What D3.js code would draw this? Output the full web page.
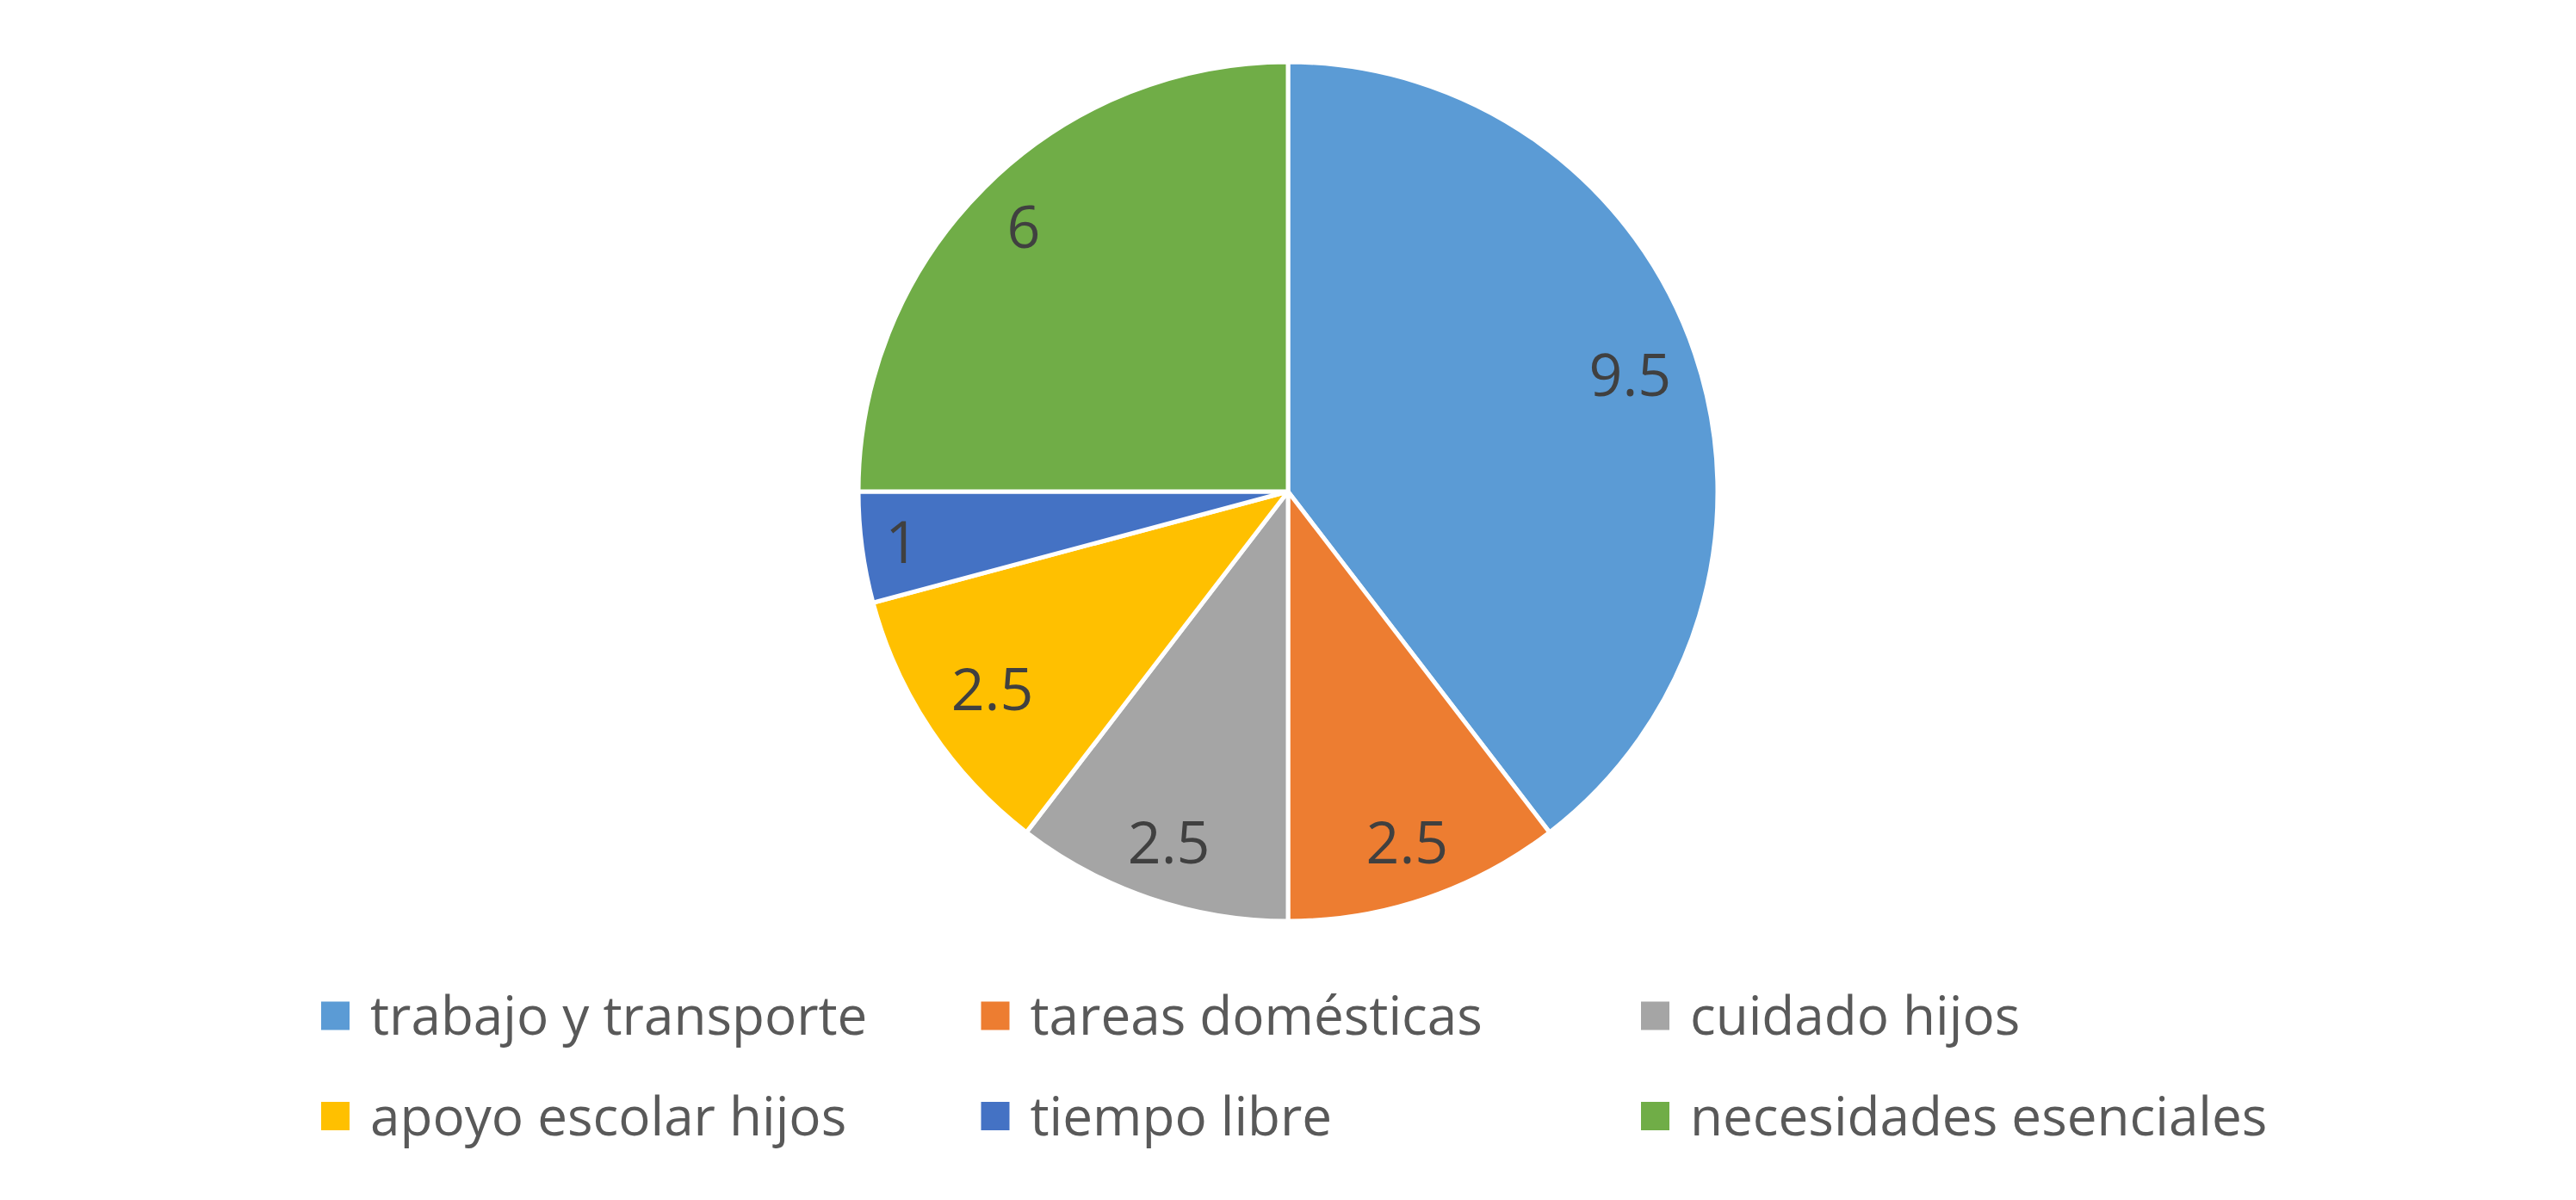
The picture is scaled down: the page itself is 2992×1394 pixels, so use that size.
<!DOCTYPE html>
<html>
<head>
<meta charset="utf-8">
<script src="https://cdn.jsdelivr.net/npm/d3@7"></script>
<style>
  html, body { margin: 0; padding: 0; background: #fff; }
  svg { display: block; font-family: "Open Sans", "Noto Sans", sans-serif; }
</style>
</head>
<body>
<div id="chart"></div>
<script>
// data
const categories = ["trabajo y transporte", "tareas domésticas", "cuidado hijos",
                    "apoyo escolar hijos", "tiempo libre", "necesidades esenciales"];
const hours = [9.5, 2.5, 2.5, 2.5, 1, 6];
const sliceColors = ["#5B9BD5", "#ED7D31", "#A5A5A5", "#FFC000", "#4472C4", "#70AD47"];

// layout
const width = 2992, height = 1394;
const cx = 1496, cy = 571, radius = 499;
// where each data label sits, as a share of the radius (Excel best fit)
const labelPos = [0.841, 0.863, 0.863, 0.828, 0.906, 0.870];

const svg = d3.select("#chart")
    .append("svg")
    .attr("width", width)
    .attr("height", height);

const color = d3.scaleOrdinal()
    .domain(categories)
    .range(sliceColors);

const pie = d3.pie()
    .sort(null)
    .value(d => d.value);

const data = categories.map((c, i) => ({ name: c, value: hours[i] }));

const arc = d3.arc()
    .innerRadius(0)
    .outerRadius(radius);

const g = svg.append("g")
    .attr("transform", `translate(${cx},${cy})`);

const slices = g.selectAll(".arc")
    .data(pie(data))
    .enter()
    .append("g")
    .attr("class", "arc");

slices.append("path")
    .attr("d", arc)
    .style("fill", d => color(d.data.name))
    .style("stroke", "#fff")
    .style("stroke-width", 5)
    .style("stroke-linejoin", "round");

slices.append("text")
    .attr("transform", (d, i) => {
        const r = radius * labelPos[i];
        const c = d3.arc().innerRadius(r).outerRadius(r).centroid(d);
        return `translate(${c[0]},${c[1]})`;
    })
    .attr("text-anchor", "middle")
    .attr("dy", "0.357em")
    .attr("font-size", "68px")
    .attr("fill", "#404040")
    .text(d => d.data.value);

// legend, 3 columns x 2 rows
const colX = d3.scalePoint().domain([0, 1, 2]).range([373, 1906]);
const rowY = d3.scalePoint().domain([0, 1]).range([1180, 1296.5]);
const box = 33;

const legend = svg.append("g").attr("class", "legend");

const item = legend.selectAll(".item")
    .data(categories)
    .enter()
    .append("g")
    .attr("class", "item")
    .attr("transform", (d, i) => `translate(${colX(i % 3)},${rowY(Math.floor(i / 3))})`);

item.append("rect")
    .attr("x", 0)
    .attr("y", -box / 2)
    .attr("width", box)
    .attr("height", box)
    .style("fill", d => color(d));

item.append("text")
    .attr("x", 57)
    .attr("y", 22)
    .attr("font-size", "62px")
    .attr("fill", "#595959")
    .text(d => d);
</script>
</body>
</html>
